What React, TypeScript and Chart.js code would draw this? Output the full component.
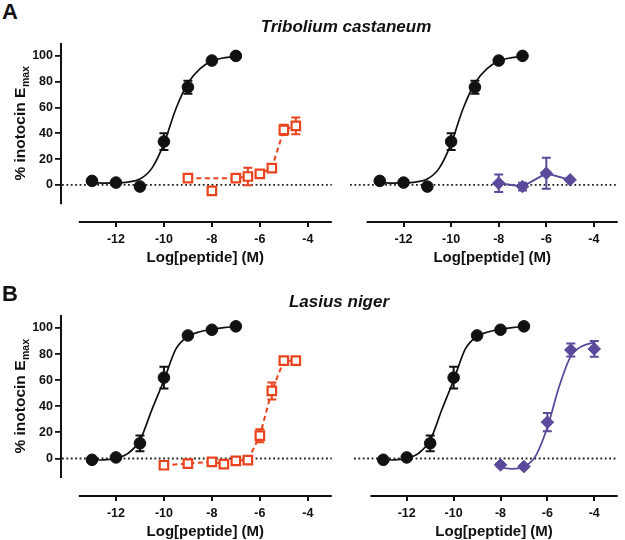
import React, { useEffect, useRef } from "react";
import { Chart, registerables } from "chart.js";

Chart.register(...registerables);

const FONT = '"Liberation Sans", Arial, Helvetica, sans-serif';
const BLACK = "#111111";
const RED = "#e8431c";
const PURPLE = "#5b4a9c";

// ---- axes ----
const xTicks = [-12, -10, -8, -6, -4];
const yTicks = [0, 20, 40, 60, 80, 100];
const X_MIN = -14.25;
const X_MAX = -3.0;
const X_AXIS_START = -13.55;
const Y_MIN = -28;
const Y_MAX = 110;
const Y_AXIS_TOP = 110;
const Y_AXIS_BOTTOM = -15;

// ---- A: Tribolium castaneum ----
// inotocin (black circles)
const triInoX = [-13, -12, -11, -10, -9, -8, -7];
const triInoY = [3.1, 1.8, -1.3, 33.6, 75.7, 96.4, 100];
const triInoErr = [0, 0, 0, 6.5, 5, 0, 0];
const triInoFitX = [-13, -12.5, -12, -11.5, -11, -10.5, -10, -9.5, -9, -8.5, -8, -7.5, -7];
const triInoFitY = [1.6, 1.4, 1.5, 2.2, 4.5, 13, 32, 59, 79, 90, 96, 98.5, 99.5];
// red open squares
const triRedX = [-9, -8, -7, -6.5, -6, -5.5, -5, -4.5];
const triRedY = [5.2, -4.7, 5.2, 6.5, 8.5, 13, 42.6, 45.7];
const triRedErr = [0, 0, 0, 6.7, 0, 0, 4, 6.5];
const triRedLineX = [-9, -7, -6.5, -6, -5.5, -5, -4.5];
const triRedLineY = [5.2, 5.2, 6.5, 8.5, 13, 42.6, 45.7];
// purple diamonds
const triPurX = [-8, -7, -6, -5];
const triPurY = [1.3, -1.3, 9, 3.9];
const triPurErr = [6.8, 3, 12, 0];

// ---- B: Lasius niger ----
const lasInoX = [-13, -12, -11, -10, -9, -8, -7];
const lasInoY = [-1, 0.8, 11.6, 62, 94.3, 98.7, 101.3];
const lasInoErr = [0, 0, 6, 8.4, 0, 0, 0];
const lasInoFitX = [-13, -12.5, -12, -11.5, -11, -10.5, -10, -9.5, -9, -8.5, -8, -7.5, -7];
const lasInoFitY = [-1.2, -1, 0, 3.9, 14, 37.5, 60, 84, 93.6, 97.2, 99, 100.3, 101];
const lasRedX = [-10, -9, -8, -7.5, -7, -6.5, -6, -5.5, -5, -4.5];
const lasRedY = [-5.2, -3.9, -2.6, -4.4, -1.8, -1.3, 17.5, 51.8, 75, 75];
const lasRedErr = [0, 3, 0, 0, 0, 0, 5, 6.5, 0, 0];
const lasPurX = [-8, -7, -6, -5, -4];
const lasPurY = [-4.9, -6.2, 27.8, 83.2, 84];
const lasPurErr = [0, 0, 7, 5, 6];
const lasPurFitX = [-8, -7.5, -7, -6.5, -6, -5.5, -5, -4.5, -4];
const lasPurFitY = [-7, -8, -6.4, 2, 24, 55, 78.5, 86.3, 89];

const pts = (xs: number[], ys: number[]) => xs.map((x, i) => ({ x, y: ys[i] }));

const circles = (xs: number[], ys: number[], err: number[]) => ({
  data: pts(xs, ys),
  err,
  errColor: BLACK,
  showLine: false,
  pointStyle: "circle",
  pointRadius: 5.8,
  pointBackgroundColor: BLACK,
  pointBorderColor: BLACK,
  pointBorderWidth: 1,
  order: 0,
});

const squares = (xs: number[], ys: number[], err: number[], line: boolean) => ({
  data: pts(xs, ys),
  err,
  errColor: RED,
  showLine: line,
  borderColor: RED,
  borderWidth: 2,
  borderDash: [5, 3.5],
  tension: 0,
  pointStyle: "rect",
  pointRadius: 6,
  pointBackgroundColor: "#ffffff",
  pointBorderColor: RED,
  pointBorderWidth: 2.2,
  order: 0,
});

const diamonds = (xs: number[], ys: number[], err: number[], line: boolean) => ({
  data: pts(xs, ys),
  err,
  errColor: PURPLE,
  showLine: line,
  borderColor: PURPLE,
  borderWidth: 2,
  tension: 0,
  pointStyle: "rectRot",
  pointRadius: 6.3,
  pointBackgroundColor: PURPLE,
  pointBorderColor: PURPLE,
  pointBorderWidth: 1,
  order: 0,
});

const curve = (xs: number[], ys: number[], color: string, dash: number[] = [], smooth = true, width = 1.7) => ({
  data: pts(xs, ys),
  showLine: true,
  pointRadius: 0,
  borderColor: color,
  borderWidth: width,
  borderDash: dash,
  cubicInterpolationMode: smooth ? "monotone" : "default",
  tension: 0,
  fill: false,
  order: 1,
});

type Spec = {
  left: number;
  top: number;
  w: number;
  h: number;
  padL: number;
  padR: number;
  padT: number;
  xh: number;
  showY: boolean;
  datasets: any[];
};

const decorPlugin = (showY: boolean) => ({
  id: "decor",
  beforeDatasetsDraw(chart: any) {
    const { ctx, chartArea, scales } = chart;
    const x = scales.x;
    const y = scales.y;
    ctx.save();
    // dotted zero line
    const y0 = y.getPixelForValue(0);
    ctx.strokeStyle = "#222222";
    ctx.lineWidth = 1.8;
    ctx.setLineDash([1.8, 2.6]);
    ctx.beginPath();
    ctx.moveTo(chartArea.left, y0);
    ctx.lineTo(chartArea.right, y0);
    ctx.stroke();
    ctx.setLineDash([]);
    // error bars
    chart.data.datasets.forEach((ds: any) => {
      if (!ds.err) return;
      ctx.strokeStyle = ds.errColor;
      ctx.lineWidth = 2;
      ds.data.forEach((p: any, j: number) => {
        const e = ds.err[j];
        if (!e) return;
        const px = x.getPixelForValue(p.x);
        const t = y.getPixelForValue(p.y + e);
        const b = y.getPixelForValue(p.y - e);
        ctx.beginPath();
        ctx.moveTo(px, t);
        ctx.lineTo(px, b);
        ctx.moveTo(px - 4.5, t);
        ctx.lineTo(px + 4.5, t);
        ctx.moveTo(px - 4.5, b);
        ctx.lineTo(px + 4.5, b);
        ctx.stroke();
      });
    });
    ctx.restore();
  },
  afterDraw(chart: any) {
    const { ctx, chartArea, scales } = chart;
    const x = scales.x;
    const y = scales.y;
    ctx.save();
    ctx.strokeStyle = BLACK;
    ctx.lineWidth = 2;
    ctx.setLineDash([]);
    // x axis line
    const xs = x.getPixelForValue(X_AXIS_START);
    ctx.beginPath();
    ctx.moveTo(xs, chartArea.bottom + 1);
    ctx.lineTo(chartArea.right, chartArea.bottom + 1);
    ctx.stroke();
    // x title
    ctx.fillStyle = BLACK;
    ctx.font = `bold 15px ${FONT}`;
    ctx.textAlign = "center";
    ctx.textBaseline = "alphabetic";
    ctx.fillText("Log[peptide] (M)", (xs + chartArea.right) / 2, chartArea.bottom + 40.5);
    if (showY) {
      const yt = y.getPixelForValue(Y_AXIS_TOP);
      const yb = y.getPixelForValue(Y_AXIS_BOTTOM);
      ctx.beginPath();
      ctx.moveTo(chartArea.left - 1, yt);
      ctx.lineTo(chartArea.left - 1, yb);
      ctx.stroke();
      // y title with subscript
      const mainTxt = "% inotocin E";
      const subTxt = "max";
      ctx.font = `bold 15.5px ${FONT}`;
      const w1 = ctx.measureText(mainTxt).width;
      ctx.font = `bold 10.5px ${FONT}`;
      const w2 = ctx.measureText(subTxt).width;
      const total = w1 + w2;
      ctx.translate(25, (yt + yb) / 2);
      ctx.rotate(-Math.PI / 2);
      ctx.textAlign = "left";
      ctx.font = `bold 15.5px ${FONT}`;
      ctx.fillText(mainTxt, -total / 2, 0);
      ctx.font = `bold 10.5px ${FONT}`;
      ctx.fillText(subTxt, -total / 2 + w1 + 0.5, 3.5);
    }
    ctx.restore();
  },
});

function ChartPanel({ spec }: { spec: Spec }) {
  const ref = useRef<HTMLCanvasElement>(null);
  useEffect(() => {
    const tickFont = { family: FONT, size: 12.5, weight: "bold" as const };
    const chart = new Chart(ref.current as HTMLCanvasElement, {
      type: "line",
      data: { datasets: spec.datasets as any },
      options: {
        animation: false,
        responsive: false,
        maintainAspectRatio: false,
        layout: { padding: { left: spec.padL, right: spec.padR, top: spec.padT, bottom: 0 } },
        plugins: {
          legend: { display: false },
          tooltip: { enabled: false },
          title: { display: false },
        },
        scales: {
          x: {
            type: "linear",
            min: X_MIN,
            max: X_MAX,
            afterBuildTicks: (s: any) => {
              s.ticks = xTicks.map((v) => ({ value: v }));
            },
            afterFit: (s: any) => {
              s.height = spec.xh;
            },
            grid: {
              display: true,
              drawOnChartArea: false,
              drawTicks: true,
              tickLength: 6,
              color: BLACK,
              lineWidth: 2,
            },
            border: { display: false },
            ticks: {
              color: BLACK,
              font: tickFont,
              padding: 5,
              maxRotation: 0,
              autoSkip: false,
              callback: (v: any) => String(v),
            },
          },
          y: {
            type: "linear",
            display: spec.showY,
            min: Y_MIN,
            max: Y_MAX,
            afterBuildTicks: (s: any) => {
              s.ticks = yTicks.map((v) => ({ value: v }));
            },
            afterFit: (s: any) => {
              if (spec.showY) s.width = 62;
            },
            grid: {
              display: true,
              drawOnChartArea: false,
              drawTicks: true,
              tickLength: 7,
              color: BLACK,
              lineWidth: 1.8,
            },
            border: { display: false },
            ticks: {
              color: BLACK,
              font: tickFont,
              padding: 2,
              autoSkip: false,
              callback: (v: any) => String(v),
            },
          },
        },
      } as any,
      plugins: [decorPlugin(spec.showY)],
    });
    return () => chart.destroy();
  }, []);
  return (
    <canvas
      ref={ref}
      width={spec.w}
      height={spec.h}
      style={{ position: "absolute", left: spec.left, top: spec.top, width: spec.w, height: spec.h }}
    />
  );
}

const panels: Spec[] = [
  {
    left: 0, top: 30, w: 340, h: 240, padL: 0, padR: 8, padT: 13, xh: 49, showY: true,
    datasets: [
      circles(triInoX, triInoY, triInoErr),
      squares(triRedX, triRedY, triRedErr, false),
      curve(triInoFitX, triInoFitY, BLACK),
      curve(triRedLineX, triRedLineY, RED, [5, 3.5], false, 2),
    ],
  },
  {
    left: 340, top: 30, w: 285, h: 240, padL: 10, padR: 5, padT: 13, xh: 49, showY: false,
    datasets: [
      circles(triInoX, triInoY, triInoErr),
      diamonds(triPurX, triPurY, triPurErr, true),
      curve(triInoFitX, triInoFitY, BLACK),
    ],
  },
  {
    left: 0, top: 300, w: 340, h: 240, padL: 0, padR: 8, padT: 15, xh: 45, showY: true,
    datasets: [
      circles(lasInoX, lasInoY, lasInoErr),
      squares(lasRedX, lasRedY, lasRedErr, true),
      curve(lasInoFitX, lasInoFitY, BLACK),
    ],
  },
  {
    left: 340, top: 300, w: 285, h: 240, padL: 14, padR: 2, padT: 15, xh: 45, showY: false,
    datasets: [
      circles(lasInoX, lasInoY, lasInoErr),
      diamonds(lasPurX, lasPurY, lasPurErr, false),
      curve(lasInoFitX, lasInoFitY, BLACK),
      curve(lasPurFitX, lasPurFitY, PURPLE, [], true, 1.8),
    ],
  },
];

const labelStyle = (left: number, top: number, size: number, extra: any = {}) => ({
  position: "absolute" as const,
  left,
  top,
  fontFamily: FONT,
  fontWeight: "bold" as const,
  fontSize: size,
  lineHeight: `${size}px`,
  color: BLACK,
  whiteSpace: "nowrap" as const,
  ...extra,
});

export default function App() {
  return (
    <div style={{ position: "absolute", left: 0, top: 0, width: 625, height: 540, background: "#ffffff", overflow: "hidden" }}>
      {panels.map((p, i) => (
        <ChartPanel key={i} spec={p} />
      ))}
      <div style={labelStyle(2, 1.4, 22)}>A</div>
      <div style={labelStyle(2, 283.4, 22)}>B</div>
      <div style={labelStyle(196, 17.6, 17, { width: 300, textAlign: "center", fontStyle: "italic" })}>
        Tribolium castaneum
      </div>
      <div style={labelStyle(189, 292.6, 17, { width: 300, textAlign: "center", fontStyle: "italic" })}>
        Lasius niger
      </div>
    </div>
  );
}
